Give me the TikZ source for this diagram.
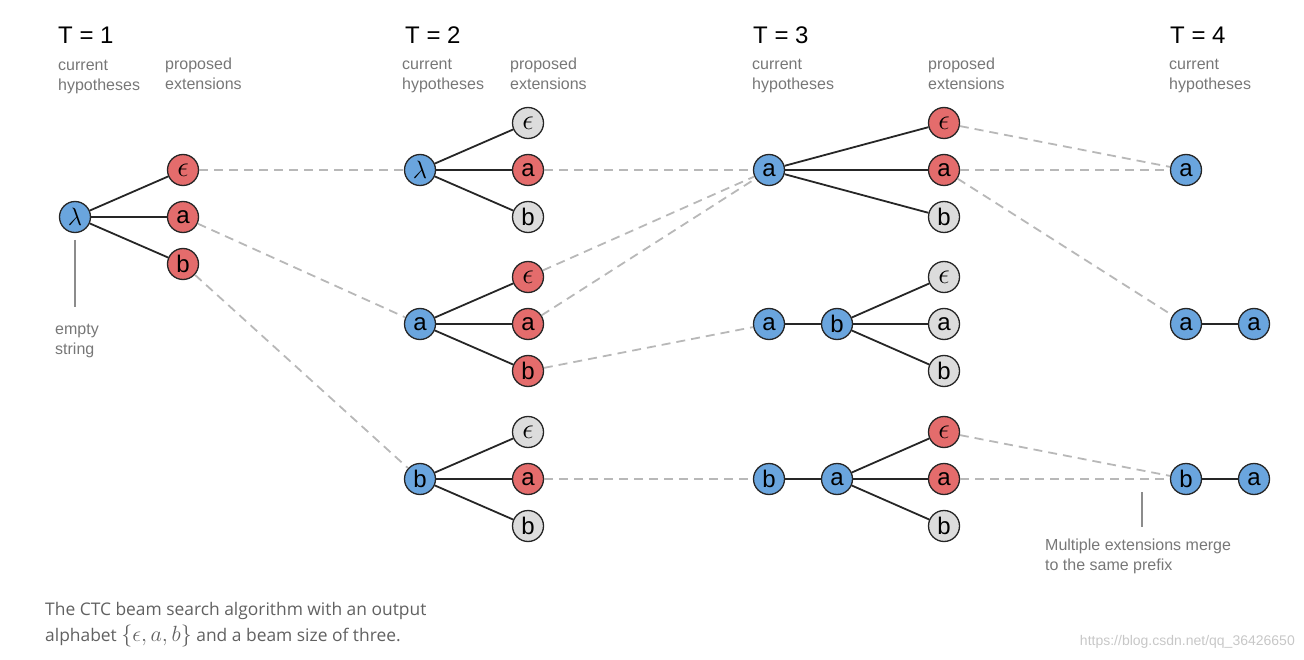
\RequirePackage{fix-cm}
\documentclass[tikz,border=0pt]{standalone}
\usepackage{fontspec}
\usepackage{xcolor}
\setmainfont{Liberation Sans}
\newfontfamily\captionfont{Open Sans}
\definecolor{hyp-blue}{HTML}{6AA5DE}
\definecolor{ext-red}{HTML}{E46C6C}
\definecolor{ext-gray}{HTML}{DCDCDC}
\definecolor{label-gray}{HTML}{777777}
\definecolor{dash-gray}{HTML}{B8B8B8}
\newcommand{\epssym}{{\fontsize{29}{29}\selectfont$\epsilon$}}
\newcommand{\lamsym}{{\fontsize{25}{25}\selectfont$\lambda$}}
\tikzset{
    sym-node/.style = {circle, draw=black!85, line width=1.3pt, minimum size=31pt, inner sep=0pt, font=\fontsize{24}{24}\selectfont},
    hyp-node/.style = {sym-node, fill=hyp-blue},
    kept-node/.style = {sym-node, fill=ext-red},
    dropped-node/.style = {sym-node, fill=ext-gray},
    branch/.style = {draw=black!85, line width=1.8pt},
    merge/.style = {draw=dash-gray, line width=1.8pt, dash pattern=on 9pt off 6pt},
    pointer/.style = {draw=black!45, line width=1.6pt},
    step-title/.style = {anchor=base west, inner sep=0pt, font=\fontsize{24}{24}\selectfont},
    step-label/.style = {anchor=base west, inner sep=0pt, align=left, text=label-gray, font=\fontsize{16}{20}\selectfont},
}

\begin{document}
\begin{tikzpicture}[x=1pt, y=-1pt]
\useasboundingbox (0,0) rectangle (1304,660);

% headings (labels are placed by the baseline of their last line)
\node[step-title] (t1-title) at (58,44) {T = 1};
\node[step-title] (t2-title) at (405,44) {T = 2};
\node[step-title] (t3-title) at (753,44) {T = 3};
\node[step-title] (t4-title) at (1170,44) {T = 4};
\node[step-label] (t1-cur) at (58,91) {current\\hypotheses};
\node[step-label] (t1-ext) at (165,90) {proposed\\extensions};
\node[step-label] (t2-cur) at (402,90) {current\\hypotheses};
\node[step-label] (t2-ext) at (510,90) {proposed\\extensions};
\node[step-label] (t3-cur) at (752,90) {current\\hypotheses};
\node[step-label] (t3-ext) at (928,90) {proposed\\extensions};
\node[step-label] (t4-cur) at (1169,90) {current\\hypotheses};

% T = 1
\node[hyp-node] (t1-root) at (75,217) {\lamsym};
\node[kept-node] (t1-eps) at (183,170) {\epssym};
\node[kept-node] (t1-a) at (183,217) {a};
\node[kept-node] (t1-b) at (183,264) {b};
\foreach \e in {eps,a,b} \draw[branch] (t1-root) -- (t1-\e);

\coordinate (empty-top) at (75,240);
\coordinate (empty-end) at (75,307);
\draw[pointer] (empty-top) -- (empty-end);
\node[step-label] (empty-text) at (55,354) {empty\\string};

% T = 2
\node[hyp-node] (t2-lam) at (420,170) {\lamsym};
\node[dropped-node] (t2-lam-eps) at (528,123) {\epssym};
\node[kept-node] (t2-lam-a) at (528,170) {a};
\node[dropped-node] (t2-lam-b) at (528,217) {b};

\node[hyp-node] (t2-a) at (420,324) {a};
\node[kept-node] (t2-a-eps) at (528,277) {\epssym};
\node[kept-node] (t2-a-a) at (528,324) {a};
\node[kept-node] (t2-a-b) at (528,371) {b};

\node[hyp-node] (t2-b) at (420,479) {b};
\node[dropped-node] (t2-b-eps) at (528,432) {\epssym};
\node[kept-node] (t2-b-a) at (528,479) {a};
\node[dropped-node] (t2-b-b) at (528,526) {b};

\foreach \h in {lam,a,b}
    \foreach \e in {eps,a,b}
        \draw[branch] (t2-\h) -- (t2-\h-\e);

\draw[merge] (t1-eps) -- (t2-lam);
\draw[merge] (t1-a) -- (t2-a);
\draw[merge] (t1-b) -- (t2-b);

% T = 3
\node[hyp-node] (t3-a) at (769,170) {a};
\node[kept-node] (t3-a-eps) at (944,123) {\epssym};
\node[kept-node] (t3-a-a) at (944,170) {a};
\node[dropped-node] (t3-a-b) at (944,217) {b};

\node[hyp-node] (t3-ab-0) at (769,324) {a};
\node[hyp-node] (t3-ab) at (837,324) {b};
\node[dropped-node] (t3-ab-eps) at (944,277) {\epssym};
\node[dropped-node] (t3-ab-a) at (944,324) {a};
\node[dropped-node] (t3-ab-b) at (944,371) {b};

\node[hyp-node] (t3-ba-0) at (769,479) {b};
\node[hyp-node] (t3-ba) at (837,479) {a};
\node[kept-node] (t3-ba-eps) at (944,432) {\epssym};
\node[kept-node] (t3-ba-a) at (944,479) {a};
\node[dropped-node] (t3-ba-b) at (944,526) {b};

\draw[branch] (t3-ab-0) -- (t3-ab);
\draw[branch] (t3-ba-0) -- (t3-ba);
\foreach \h in {a,ab,ba}
    \foreach \e in {eps,a,b}
        \draw[branch] (t3-\h) -- (t3-\h-\e);

\draw[merge] (t2-lam-a) -- (t3-a);
\draw[merge] (t2-a-eps) -- (t3-a);
\draw[merge] (t2-a-a) -- (t3-a);
\draw[merge] (t2-a-b) -- (t3-ab-0);
\draw[merge] (t2-b-a) -- (t3-ba-0);

% T = 4
\node[hyp-node] (t4-a) at (1186,170) {a};
\node[hyp-node] (t4-aa-0) at (1186,324) {a};
\node[hyp-node] (t4-aa) at (1254,324) {a};
\node[hyp-node] (t4-ba-0) at (1186,479) {b};
\node[hyp-node] (t4-ba) at (1254,479) {a};
\draw[branch] (t4-aa-0) -- (t4-aa);
\draw[branch] (t4-ba-0) -- (t4-ba);

\draw[merge] (t3-a-eps) -- (t4-a);
\draw[merge] (t3-a-a) -- (t4-a);
\draw[merge] (t3-a-a) -- (t4-aa-0);
\draw[merge] (t3-ba-eps) -- (t4-ba-0);
\draw[merge] (t3-ba-a) -- (t4-ba-0);

\coordinate (merge-top) at (1142,492);
\coordinate (merge-end) at (1142,527);
\draw[pointer] (merge-top) -- (merge-end);
\node[step-label] (merge-text) at (1045,570) {Multiple extensions merge\\to the same prefix};

% caption
\node[anchor=base west, inner sep=0pt, align=left, text=black!62, font=\captionfont\fontsize{17.4}{26}\selectfont] (caption) at (45,641) {The CTC beam search algorithm with an output\\alphabet {\fontsize{22}{26}\selectfont$\{\epsilon, a, b\}$} and a beam size of three.};
\node[anchor=base east, inner sep=0pt, text=black!22, font=\fontsize{14}{14}\selectfont] (watermark) at (1295,645) {https://blog.csdn.net/qq\_36426650};
\end{tikzpicture}
\end{document}
